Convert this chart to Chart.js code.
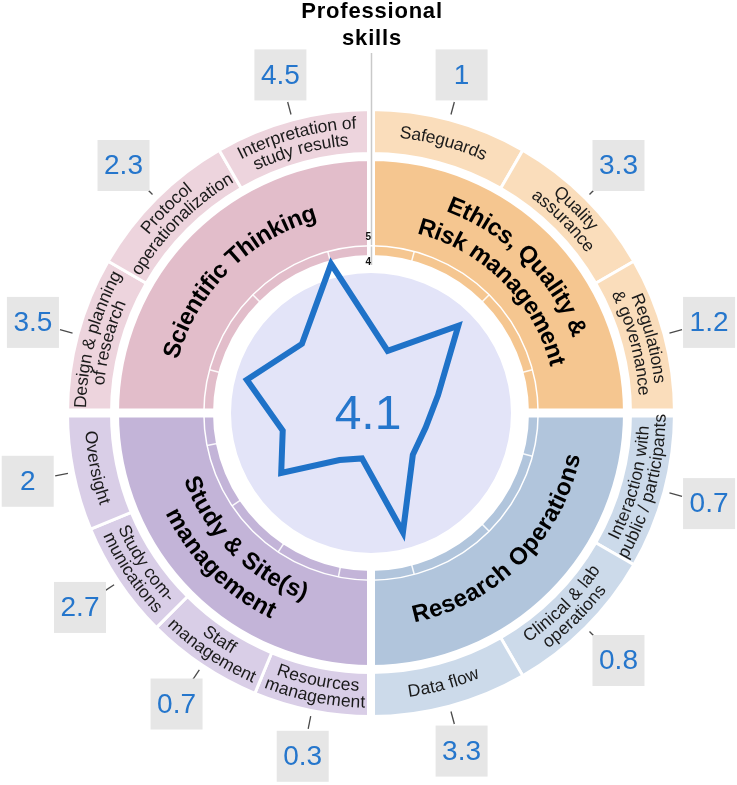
<!DOCTYPE html>
<html>
<head>
<meta charset="utf-8">
<script src="https://cdn.jsdelivr.net/npm/chart.js@4"></script>
<style>
  body { margin: 0; background: #fff; }
  #wrap { position: relative; width: 737px; height: 785px; overflow: hidden; }
  #wrap canvas { position: absolute; }
</style>
</head>
<body>
<div id="wrap">
  <canvas id="rings" width="737" height="785" style="left:0;top:0;width:737px;height:785px"></canvas>
  <canvas id="radar" width="400" height="400" style="left:171px;top:213px;width:400px;height:400px"></canvas>
</div>
<script>
// --- data ---
const titleLines = ['Professional', 'skills'];
const quadrants = ['Ethics, Quality & Risk management', 'Research Operations', 'Study & Site(s) management', 'Scientific Thinking'];
const quadrantLines = [['Ethics, Quality &', 'Risk management'], ['Research Operations'], ['Study & Site(s)', 'management'], ['Scientific Thinking']];
const skills = ['Safeguards', 'Quality assurance', 'Regulations & governance',
  'Interaction with public / participants', 'Clinical & lab operations', 'Data flow',
  'Resources management', 'Staff management', 'Study communications', 'Oversight',
  'Design & planning of research', 'Protocol operationalization', 'Interpretation of study results'];
const skillLines = [['Safeguards'], ['Quality', 'assurance'], ['Regulations', '& governance'],
  ['Interaction with', 'public / participants'], ['Clinical & lab', 'operations'], ['Data flow'],
  ['Resources', 'management'], ['Staff', 'management'], ['Study com-', 'munications'], ['Oversight'],
  ['Design & planning', 'of research'], ['Protocol', 'operationalization'], ['Interpretation of', 'study results']];
const skillQuadrant = [0, 0, 0, 1, 1, 1, 2, 2, 2, 2, 3, 3, 3];
const skillScores = [1, 3.3, 1.2, 0.7, 0.8, 3.3, 0.3, 0.7, 2.7, 2, 3.5, 2.3, 4.5];
const overallScore = 4.1;
const scaleTicks = [4, 5];

// --- styles ---
const innerColors = ['#F5C690', '#B1C5DC', '#C3B4D8', '#E2BDCA'];
const outerColors = ['#FADDBB', '#CCDAEA', '#D9CEE7', '#EDD4DD'];
const discColor = '#E3E4F8';
const blue = '#2576CC';
const FONT = '"Liberation Sans", Arial, sans-serif';

// each quadrant is split evenly between its skills
const groupSize = quadrants.map((q, i) => skillQuadrant.filter(g => g === i).length);
const skillSpans = skillQuadrant.map(g => 1 / groupSize[g]);

// radar: 96 slots around the circle, a skill sits in the slot at the middle of its segment
const SLOTS = 96;
const radarLabels = new Array(SLOTS).fill('');
const radarValues = new Array(SLOTS).fill(null);
let acc = 0;
skillSpans.forEach((s, i) => {
  const slot = Math.round((acc + s / 2) / quadrants.length * SLOTS);
  radarValues[slot] = skillScores[i];
  acc += s;
});

const TAU = Math.PI * 2;
function isBottom(a) {
  const m = ((a % TAU) + TAU) % TAU;
  return m > 0.001 && m < Math.PI - 0.001;
}

// text bent along a circle; bottom half reads the other way so it stays upright
function arcText(ctx, text, cx, cy, r, mid, bottom) {
  const chars = [...text];
  const w = chars.map(ch => ctx.measureText(ch).width);
  const total = w.reduce((a, b) => a + b, 0);
  let pos = -total / 2;
  chars.forEach((ch, k) => {
    const off = (pos + w[k] / 2) / r;
    const a = bottom ? mid - off : mid + off;
    ctx.save();
    ctx.translate(cx + r * Math.cos(a), cy + r * Math.sin(a));
    ctx.rotate(bottom ? a - Math.PI / 2 : a + Math.PI / 2);
    ctx.fillText(ch, 0, 0);
    ctx.restore();
    pos += w[k];
  });
}

function linesOnArc(ctx, lines, cx, cy, rMid, mid, lh) {
  const bottom = isBottom(mid);
  const n = lines.length;
  lines.forEach((t, k) => {
    const r = bottom ? rMid + lh * (k - (n - 1) / 2) : rMid + lh * ((n - 1) / 2 - k);
    arcText(ctx, t, cx, cy, r, mid, bottom);
  });
}

const ringDecor = {
  id: 'ringDecor',
  afterDatasetsDraw(chart) {
    const ctx = chart.ctx;
    const a0 = chart.getDatasetMeta(0).data[0];
    const cx = a0.x, cy = a0.y;
    // white gaps between the four quadrants
    ctx.save();
    ctx.beginPath();
    ctx.arc(cx, cy, 400, 0, TAU);
    ctx.arc(cx, cy, 147, 0, TAU, true);
    ctx.clip();
    ctx.fillStyle = '#fff';
    ctx.fillRect(cx - 4, cy - 320, 8, 640);
    ctx.fillRect(cx - 320, cy - 4.5, 640, 9);
    ctx.restore();
  },
  afterDraw(chart) {
    const ctx = chart.ctx;
    const outer = chart.getDatasetMeta(0).data;
    const inner = chart.getDatasetMeta(2).data;
    const cx = outer[0].x, cy = outer[0].y;

    // title
    ctx.save();
    ctx.fillStyle = '#000';
    ctx.font = 'bold 22px ' + FONT;
    ctx.letterSpacing = '0.8px';
    ctx.textAlign = 'center';
    ctx.textBaseline = 'alphabetic';
    titleLines.forEach((t, i) => ctx.fillText(t, cx + 1, 18 + i * 27));
    ctx.restore();

    // axis line
    ctx.save();
    ctx.strokeStyle = '#C9C9C9';
    ctx.lineWidth = 1.5;
    ctx.beginPath();
    ctx.moveTo(cx + 0.5, 53);
    ctx.lineTo(cx + 0.5, cy - 148);
    ctx.stroke();
    ctx.restore();

    // skill names on the outer ring
    ctx.save();
    ctx.fillStyle = '#1a1a1a';
    ctx.font = '17.5px ' + FONT;
    ctx.textAlign = 'center';
    ctx.textBaseline = 'middle';
    outer.forEach((arc, i) => {
      const mid = (arc.startAngle + arc.endAngle) / 2;
      const rMid = (arc.innerRadius + arc.outerRadius) / 2;
      linesOnArc(ctx, skillLines[i], cx, cy, rMid, mid, 16.5);
    });
    ctx.restore();

    // quadrant names on the inner ring
    ctx.save();
    ctx.fillStyle = '#000';
    ctx.font = 'bold 24px ' + FONT;
    ctx.textAlign = 'center';
    ctx.textBaseline = 'middle';
    inner.forEach((arc, i) => {
      const mid = (arc.startAngle + arc.endAngle) / 2;
      linesOnArc(ctx, quadrantLines[i], cx, cy, 207, mid, 30);
    });
    ctx.restore();

    // score boxes
    ctx.save();
    outer.forEach((arc, i) => {
      const mid = (arc.startAngle + arc.endAngle) / 2;
      const c = Math.cos(mid), s = Math.sin(mid);
      ctx.strokeStyle = '#4a4a4a';
      ctx.lineWidth = 1.3;
      ctx.beginPath();
      ctx.moveTo(cx + 309 * c, cy + 309 * s);
      ctx.lineTo(cx + 322 * c, cy + 322 * s);
      ctx.stroke();
      const bx = cx + 350 * c, by = cy + 350 * s;
      ctx.fillStyle = '#E6E6E6';
      ctx.fillRect(bx - 26, by - 25.5, 52, 51);
      ctx.fillStyle = blue;
      ctx.font = '28px ' + FONT;
      ctx.textAlign = 'center';
      ctx.textBaseline = 'middle';
      ctx.fillText(String(skillScores[i]), bx, by + 1);
    });
    ctx.restore();
  }
};

new Chart(document.getElementById('rings'), {
  type: 'doughnut',
  data: {
    labels: skills,
    datasets: [
      { data: skillSpans, backgroundColor: skillQuadrant.map(g => outerColors[g]), borderColor: '#fff', borderWidth: 3, weight: 44 },
      { data: [1], backgroundColor: 'rgba(0,0,0,0)', borderWidth: 0, weight: 6 },
      { data: quadrants.map(() => 1), backgroundColor: innerColors, borderColor: '#fff', borderWidth: 3, weight: 97 },
      { data: [1], backgroundColor: 'rgba(0,0,0,0)', borderWidth: 0, weight: 16.5 },
      { data: [1], backgroundColor: discColor, borderWidth: 0, weight: 140 }
    ]
  },
  options: {
    responsive: false,
    animation: false,
    events: [],
    radius: 303.5,
    cutout: 0,
    layout: { padding: { left: 5, right: 0, top: 41, bottom: 0 } },
    plugins: { legend: { display: false }, tooltip: { enabled: false } }
  },
  plugins: [ringDecor]
});

const radarDecor = {
  id: 'radarDecor',
  beforeDatasetsDraw(chart) {
    const ctx = chart.ctx;
    const sc = chart.scales.r;
    const r0 = sc.getDistanceFromCenterForValue(4.2);
    const r1 = sc.getDistanceFromCenterForValue(5);
    ctx.save();
    ctx.strokeStyle = 'rgba(255,255,255,0.9)';
    ctx.lineWidth = 1.5;
    radarValues.forEach((v, i) => {
      if (v === null) return;
      const p0 = sc.getPointPosition(i, r0);
      const p1 = sc.getPointPosition(i, r1);
      ctx.beginPath();
      ctx.moveTo(p0.x, p0.y);
      ctx.lineTo(p1.x, p1.y);
      ctx.stroke();
    });
    ctx.restore();
  },
  afterDraw(chart) {
    const ctx = chart.ctx;
    const sc = chart.scales.r;
    const cx = sc.xCenter, cy = sc.yCenter;
    ctx.save();
    ctx.fillStyle = '#111';
    ctx.font = 'bold 10px ' + FONT;
    ctx.textAlign = 'right';
    ctx.textBaseline = 'middle';
    scaleTicks.forEach(v => {
      ctx.fillText(String(v), cx, cy - sc.getDistanceFromCenterForValue(v) - 9);
    });
    ctx.fillStyle = blue;
    ctx.font = '48px ' + FONT;
    ctx.textAlign = 'center';
    ctx.fillText(String(overallScore), cx - 3, cy + 3);
    ctx.restore();
  }
};

new Chart(document.getElementById('radar'), {
  type: 'radar',
  data: {
    labels: radarLabels,
    datasets: [{
      data: radarValues,
      borderColor: '#1F72C8',
      borderWidth: 6,
      borderJoinStyle: 'miter',
      backgroundColor: 'rgba(0,0,0,0)',
      fill: false,
      pointRadius: 0,
      tension: 0,
      spanGaps: true
    }]
  },
  options: {
    responsive: false,
    animation: false,
    events: [],
    layout: { padding: 20 },
    plugins: { legend: { display: false }, tooltip: { enabled: false } },
    scales: {
      r: {
        min: -1.5,
        max: 5.5,
        afterBuildTicks: s => { s.ticks = scaleTicks.map(v => ({ value: v })); },
        ticks: { display: false },
        pointLabels: { display: false },
        angleLines: { display: false },
        grid: { circular: true, color: '#fff', lineWidth: 1.5 }
      }
    }
  },
  plugins: [radarDecor]
});
</script>
</body>
</html>
